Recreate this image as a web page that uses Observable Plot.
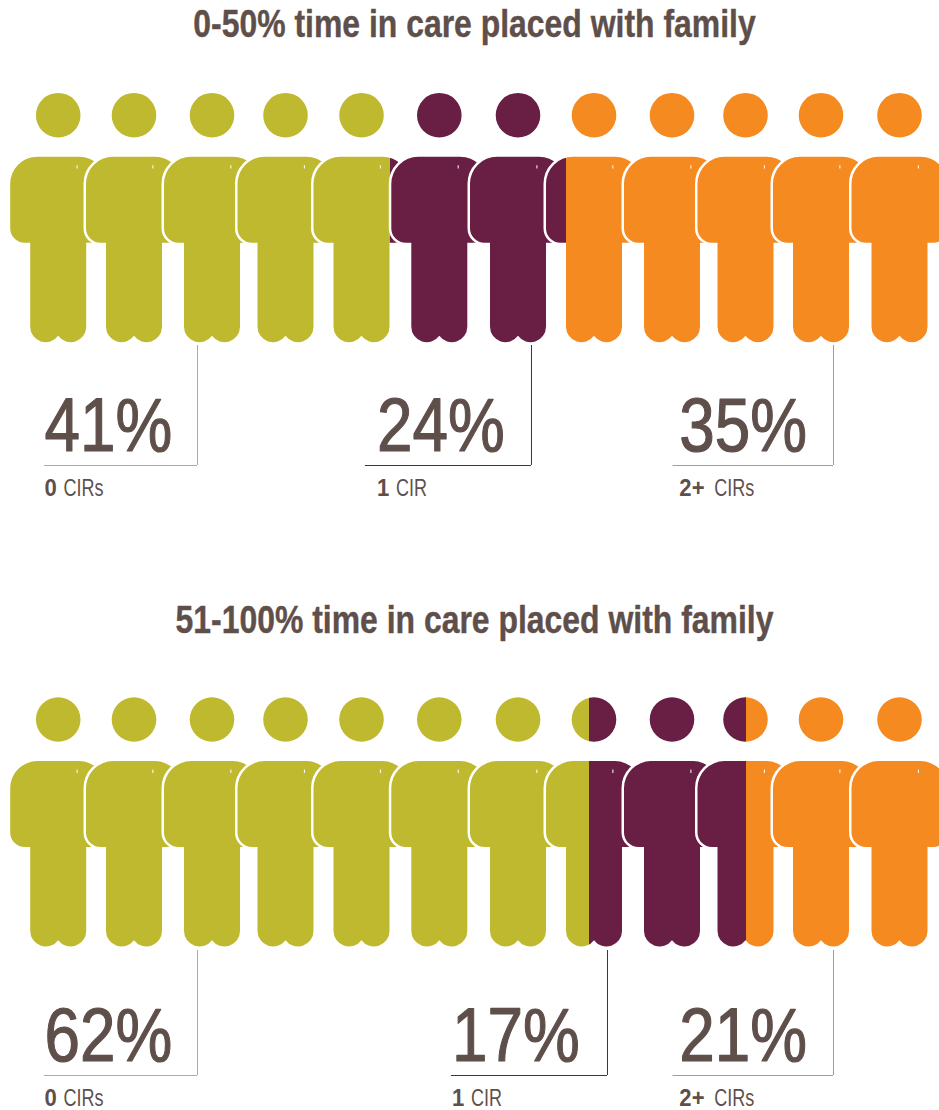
<!DOCTYPE html>
<html>
<head>
<meta charset="utf-8">
<style>
  html, body { margin: 0; padding: 0; background: #fff; overflow: hidden; }
  svg { display: block; }
</style>
<script src="https://cdn.jsdelivr.net/npm/d3@7"></script>
<script src="https://cdn.jsdelivr.net/npm/@observablehq/plot@0.6"></script>
</head>
<body>
<script>
// Share of children by number of critical incident reports, per placement group.
const panelTitles = ["0-50% time in care placed with family", "51-100% time in care placed with family"];
const sharesLow = [41, 24, 35];
const sharesHigh = [62, 17, 21];
const cirCounts = ["0", "1", "2+"];
const cirUnits = ["CIRs", "CIR", "CIRs"];
const bandColors = ["#bfb92f", "#691e44", "#f48a20"];
const figures = d3.range(12);

const INK = "#5f4f4b";
const SANS = "'Liberation Sans', sans-serif";

// Horizontal positions are in figure units: 0 is the first figure, 11 the last.
const figureCentres = [57.7, 133.5, 211.5, 285, 361, 438.8, 517.5, 593.5, 671.5, 745, 820.5, 899];
// Vertical rows for each panel: title, head centre, foot, callout rule, number, label.
const rowCentres = [24.5, 114.7, 345, 465, 426, 488, 620.5, 719, 950, 1075, 1036, 1098];
const ROW = {title: 0, head: 1, foot: 2, rule: 3, number: 4, label: 5};
const row = (panel, name) => panel * 6 + ROW[name];

const xPixel = d3.scaleLinear().domain(figures).range(figureCentres);
const yPixel = d3.scaleLinear().domain(d3.range(rowCentres.length)).range(rowCentres);

// Where cumulative shares fall along the row of figures in each panel.
const bandEdge = [
  d3.scaleLinear().domain([0, ...d3.cumsum(sharesLow)]).range([-0.7, 4.36, 6.625, 11.7]),
  d3.scaleLinear().domain([0, ...d3.cumsum(sharesHigh)]).range([-0.7, 6.928, 9, 11.7])
];

// Callout geometry per panel and band: rule start, leader position, text start.
const calloutSpans = [
  [[-0.181, 1.8141, -0.181], [4.05, 6.1776, 4.2], [8.014, 10.1592, 8.1]],
  [[-0.181, 1.8141, -0.181], [5.154, 7.1731, 5.16], [8.014, 10.1592, 8.1]]
];

const callouts = [sharesLow, sharesHigh].flatMap((shares, panel) =>
  shares.map((share, band) => {
    const [start, leader, text] = calloutSpans[panel][band];
    return {panel, band, share, count: cirCounts[band], unit: cirUnits[band], start, leader, text};
  })
);

// One pictogram figure, drawn around its head centre: head, torso with arms, two rounded feet.
const figureSymbol = {
  draw(ctx) {
    const half = 48, top = 41.6, arm = 127.6, leg = 28, shoulder = 27, hand = 14.5;
    const lobe = 15.5, lobeX = 12.5, lobeY = 211.5;
    const notch = Math.sqrt(lobe * lobe - lobeX * lobeX);
    ctx.moveTo(22.3, 0);
    ctx.arc(0, 0, 22.3, 0, 2 * Math.PI);
    ctx.closePath();
    ctx.moveTo(-half + shoulder, top);
    ctx.lineTo(half - shoulder, top);
    ctx.arcTo(half, top, half, top + shoulder, shoulder);
    ctx.lineTo(half, arm - hand);
    ctx.arcTo(half, arm, half - hand, arm, hand);
    ctx.lineTo(leg, arm);
    ctx.lineTo(leg, lobeY);
    ctx.arc(lobeX, lobeY, lobe, 0, Math.atan2(notch, -lobeX));
    ctx.arc(-lobeX, lobeY, lobe, Math.atan2(notch, lobeX), Math.PI);
    ctx.lineTo(-leg, arm);
    ctx.lineTo(-half + hand, arm);
    ctx.arcTo(-half, arm, -half, arm - hand, hand);
    ctx.lineTo(-half, top + shoulder);
    ctx.arcTo(-half, top, -half + shoulder, top, shoulder);
    ctx.closePath();
    // Small nick on the right shoulder.
    ctx.moveTo(18.4, 50);
    ctx.lineTo(18.4, 53.4);
    ctx.lineTo(19.4, 53.4);
    ctx.lineTo(19.4, 50);
    ctx.closePath();
  }
};

// A figure crossed by a band edge gets a hard-stop gradient; the rest a flat colour.
const gradients = [];
function paintFor(panel, figure) {
  const shares = panel ? sharesHigh : sharesLow;
  const edges = d3.cumsum(shares).slice(0, 2).map((c) => xPixel(bandEdge[panel](c)) - figureCentres[figure]);
  const reach = 48;
  const first = edges.filter((e) => e <= -reach).length;
  const inside = edges.filter((e) => e > -reach && e < reach);
  if (!inside.length) return bandColors[first];
  const id = `figure-paint-${panel}-${figure}`;
  gradients.push({id, first, inside});
  return `url(#${id})`;
}

const people = [0, 1].flatMap((panel) =>
  figures.map((figure) => ({panel, figure, paint: paintFor(panel, figure)}))
);

const chart = Plot.plot({
  width: 939,
  height: 1110,
  margin: 0,
  x: {type: "linear", transform: (f) => xPixel(f), domain: [0, 939], range: [0, 939], axis: null},
  y: {type: "linear", transform: (r) => yPixel(r), domain: [0, 1110], range: [0, 1110], axis: null},
  marks: [
    Plot.text(panelTitles, {
      x: () => 5.447,
      y: (d, i) => row(i, "title"),
      text: (d) => d,
      className: "panel-title",
      fontFamily: SANS,
      fontWeight: "bold",
      fontSize: 38,
      fill: INK,
      stroke: INK,
      strokeWidth: 0.4
    }),
    Plot.dot(people, {
      x: "figure",
      y: (d) => row(d.panel, "head"),
      symbol: figureSymbol,
      r: 40,
      fill: "paint",
      stroke: "#fff",
      strokeWidth: 5,
      paintOrder: "stroke"
    }),
    Plot.ruleX(callouts, {
      x: "leader",
      y1: (d) => row(d.panel, "foot"),
      y2: (d) => row(d.panel, "rule"),
      stroke: (d) => bandColors[d.band],
      strokeWidth: 1
    }),
    Plot.ruleY(callouts, {
      y: (d) => row(d.panel, "rule"),
      x1: "start",
      x2: "leader",
      stroke: (d) => bandColors[d.band],
      strokeWidth: 1
    }),
    Plot.text(callouts, {
      x: "text",
      y: (d) => row(d.panel, "number"),
      text: (d) => `${d.share}%`,
      className: "callout-number",
      textAnchor: "start",
      fontFamily: SANS,
      fontSize: 76,
      fill: INK,
      stroke: INK,
      strokeWidth: 1.2
    }),
    Plot.text(callouts, {
      x: "text",
      y: (d) => row(d.panel, "label"),
      text: "count",
      className: "callout-count",
      textAnchor: "start",
      fontFamily: SANS,
      fontWeight: "bold",
      fontSize: 24,
      fill: INK
    }),
    ...callouts.map((d) =>
      Plot.text([d], {
        x: "text",
        y: (c) => row(c.panel, "label"),
        text: "unit",
        className: "callout-unit",
        textAnchor: "start",
        dx: d.count.length > 1 ? 35 : 19,
        fontFamily: SANS,
        fontSize: 24,
        fill: INK
      })
    )
  ]
});

// Gradients are expressed in each figure's own coordinates, centred on its head.
const defs = d3.select(chart).insert("defs", ":first-child");
for (const {id, first, inside} of gradients) {
  const g = defs.append("linearGradient")
    .attr("id", id)
    .attr("gradientUnits", "userSpaceOnUse")
    .attr("x1", -48).attr("x2", 48).attr("y1", 0).attr("y2", 0);
  inside.forEach((edge, i) => {
    const offset = (edge + 48) / 96;
    g.append("stop").attr("offset", offset).attr("stop-color", bandColors[first + i]);
    g.append("stop").attr("offset", offset).attr("stop-color", bandColors[first + i + 1]);
  });
}

document.body.append(chart);

// The typeface is a condensed grotesque: narrow each text class once it can be measured.
const condense = {".panel-title": 0.84, ".callout-number": 0.84, ".callout-count": 0.92, ".callout-unit": 0.75};
for (const [selector, factor] of Object.entries(condense)) {
  d3.select(chart).selectAll(`${selector} text`).each(function () {
    this.setAttribute("textLength", this.getComputedTextLength() * factor);
    this.setAttribute("lengthAdjust", "spacingAndGlyphs");
  });
}
</script>
</body>
</html>
